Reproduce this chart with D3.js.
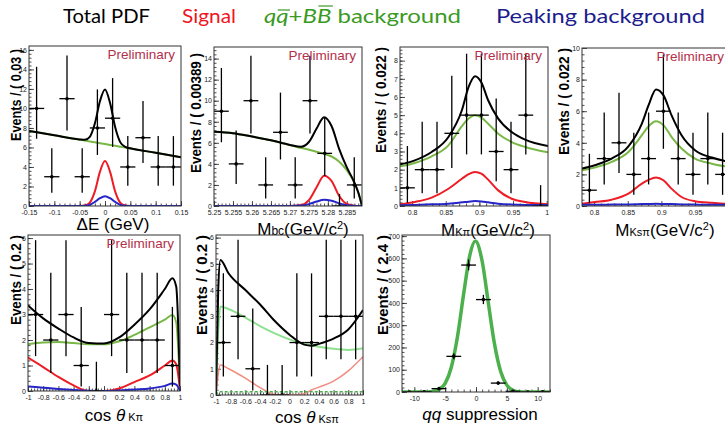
<!DOCTYPE html>
<html>
<head>
<meta charset="utf-8">
<script src="https://cdn.jsdelivr.net/npm/d3@7"></script>
<style>
  body { margin: 0; background: #fff; }
  svg { display: block; }
</style>
</head>
<body>
<svg width="725" height="427"></svg>
<script>
// ---------- data ----------

// Delta E
const dEBins   = [-0.135, -0.105, -0.075, -0.045, -0.015, 0.015, 0.045, 0.075, 0.105, 0.135];
const dECounts = [10, 3, 11, 3, 8, 9, 4, 7, 4, 4];
const dEx      = [-0.15, -0.1, -0.05, -0.04, -0.03, -0.02, -0.01, 0, 0.01, 0.02, 0.03, 0.04, 0.05, 0.1, 0.15];
const dEBkg    = [7.70, 7.25, 6.80, 6.71, 6.62, 6.53, 6.44, 6.35, 6.26, 6.17, 6.08, 5.99, 5.90, 5.45, 5.00];
const dESig    = [0, 0, 0, 0.05, 0.35, 1.5, 3.5, 4.6, 3.5, 1.5, 0.35, 0.05, 0, 0, 0];
const dEPeak   = [0, 0, 0, 0.02, 0.12, 0.42, 0.8, 1.0, 0.8, 0.42, 0.12, 0.02, 0, 0, 0];
const dETotal  = [7.70, 7.25, 6.82, 6.78, 7.09, 8.45, 10.74, 11.95, 10.56, 8.09, 6.55, 6.06, 5.92, 5.46, 5.00];

// Mbc
const mbcBins   = [5.25195, 5.25584, 5.25973, 5.26362, 5.26751, 5.2714, 5.27529, 5.27918, 5.28307, 5.28696];
const mbcCounts = [9, 4, 10, 2, 7, 2, 10, 5, 0, 2];
const mbcX      = [5.25, 5.255, 5.26, 5.265, 5.27, 5.273, 5.275, 5.277, 5.279, 5.281, 5.283, 5.285, 5.287, 5.288, 5.289];
const mbcBkg    = [7.05, 6.92, 6.6, 6.25, 5.8, 5.5, 5.35, 5.15, 4.95, 4.7, 4.2, 3.4, 2.2, 1.3, 0];
const mbcSig    = [0, 0, 0, 0, 0, 0.09, 0.55, 1.76, 2.88, 2.37, 0.95, 0.19, 0.02, 0, 0];
const mbcPeak   = [0, 0, 0, 0, 0, 0.04, 0.18, 0.42, 0.6, 0.5, 0.25, 0.07, 0.01, 0, 0];
const mbcTotal  = [7.05, 6.92, 6.6, 6.25, 5.8, 5.63, 6.08, 7.33, 8.43, 7.57, 5.4, 3.66, 2.23, 1.3, 0];

// M(K pi)
const kpiBins   = [0.793, 0.815, 0.837, 0.859, 0.881, 0.903, 0.925, 0.947, 0.969, 0.991];
const kpiCounts = [1, 2, 2, 4, 5, 5, 3, 2, 5, 0];
const kpiX      = [0.782, 0.804, 0.829, 0.854, 0.874, 0.884, 0.8935, 0.903, 0.913, 0.928, 0.948, 0.968, 1.002];
const kpiTotal  = [2.29, 2.51, 2.97, 3.8, 5.27, 6.55, 7.14, 6.8, 5.82, 4.81, 4.07, 3.65, 3.3];
const kpiBkg    = [2.18, 2.37, 2.73, 3.34, 4.39, 4.81, 4.99, 4.86, 4.53, 3.98, 3.52, 3.25, 2.95];
const kpiSig    = [0.09, 0.22, 0.46, 0.95, 1.5, 1.75, 1.87, 1.78, 1.45, 0.86, 0.4, 0.22, 0.09];
const kpiPeak   = [0.04, 0.06, 0.09, 0.13, 0.2, 0.24, 0.27, 0.25, 0.2, 0.13, 0.08, 0.06, 0.05];

// M(Ks pi)
const kspiCounts = [1, 3, 4, 2, 3, 6, 3, 2, 3, 2];
const kspiX      = [0.782, 0.801, 0.826, 0.851, 0.871, 0.881, 0.892, 0.903, 0.915, 0.930, 0.950, 0.975, 0.995, 1.002];
const kspiTotal  = [2.37, 2.58, 3.0, 3.78, 5.22, 6.38, 7.38, 7.02, 5.75, 4.48, 3.53, 3.07, 2.85, 2.8];
const kspiBkg    = [2.26, 2.43, 2.79, 3.42, 4.48, 5.05, 5.37, 5.12, 4.38, 3.64, 3.0, 2.68, 2.52, 2.5];
const kspiSig    = [0.15, 0.25, 0.4, 0.78, 1.42, 1.65, 1.8, 1.63, 1.1, 0.57, 0.3, 0.2, 0.15, 0.15];
const kspiPeak   = [0.08, 0.08, 0.09, 0.1, 0.12, 0.13, 0.14, 0.13, 0.12, 0.1, 0.09, 0.08, 0.08, 0.08];

// cos theta (K pi)
const cosBins      = [-0.9, -0.7, -0.5, -0.3, -0.1, 0.1, 0.3, 0.5, 0.7, 0.9];
const cosKpiCounts = [3, 2, 3, 1, 0, 3, 2, 2, 2, 1];
const cosKpiX      = [-1, -0.8, -0.6, -0.4, -0.2, 0, 0.2, 0.4, 0.6, 0.8, 0.9, 0.95, 1];
const cosKpiTotal  = [3.36, 2.85, 2.45, 2.1, 1.88, 1.86, 2.1, 2.6, 3.2, 4.0, 4.42, 4.1, 0.2];
const cosKpiBkg    = [1.83, 1.9, 1.92, 1.88, 1.83, 1.83, 1.95, 2.2, 2.5, 2.8, 2.98, 2.7, 0.15];
const cosKpiSig    = [1.31, 0.94, 0.55, 0.22, 0.0, 0, 0.1, 0.35, 0.61, 1.0, 1.2, 1.05, 0.05];
const cosKpiPeak   = [0.18, 0.13, 0.08, 0.04, 0.01, 0, 0.02, 0.06, 0.1, 0.2, 0.29, 0.25, 0];

// cos theta (Ks pi)
const cosKspiCounts = [2, 3, 1, 0, 0, 2, 2, 3, 3, 3];
const cosKspiX      = [-1, -0.97, -0.94, -0.83, -0.6, -0.4, -0.2, 0, 0.2, 0.3, 0.4, 0.6, 0.8, 1];
const cosKspiTotal  = [0, 4.0, 5.15, 4.64, 4.0, 3.45, 2.82, 2.3, 1.92, 1.88, 1.95, 2.15, 2.5, 3.24];
const cosKspiBkg    = [0, 2.4, 3.37, 3.28, 2.95, 2.63, 2.35, 2.12, 1.95, 1.9, 1.84, 1.76, 1.72, 1.78];
const cosKspiSig    = [0, 0.8, 1.14, 1.0, 0.64, 0.28, 0.02, 0, 0.05, 0.19, 0.3, 0.53, 0.92, 1.46];
const cosKspiPeak   = [0, 0.1, 0.12, 0.12, 0.12, 0.12, 0.12, 0.12, 0.12, 0.12, 0.12, 0.12, 0.12, 0.12];

// qq suppression
const qqBins   = [-10.8, -8.4, -6, -3.6, -1.2, 1.2, 3.6, 6, 8.4, 10.8];
const qqCounts = [0, 1, 15, 160, 570, 415, 40, 3, 0, 1];
const qqX      = [-12, -8, -7, -6, -5, -4, -3, -2, -1, -0.1, 1, 2, 3, 4, 5, 6, 7, 8, 12];
const qqTotal  = [0, 0, 2, 11, 39, 111, 249, 441, 615, 678, 587, 400, 216, 92, 31, 8, 1, 0, 0];

// legend
const legendLabels = ["Total PDF", "Signal", "qq+BB background", "Peaking background"];

// 68% Poisson intervals used by the error bars
const poissonLo = [0, 0.173, 0.708, 1.367, 2.086, 2.840, 3.620, 4.419, 5.232, 6.057, 6.891, 7.734];
const poissonHi = [1.148, 3.300, 4.638, 5.918, 7.163, 8.382, 9.584, 10.77, 11.95, 13.11, 14.27, 15.42];

// ---------- drawing ----------
const svg = d3.select("svg");
const BLACK = "#000", GREEN = "#79b846", RED = "#ee1c24", BLUE = "#2626c8";
const PRELIM = "#b3304a";

function errRange(n) {
  if (n < poissonLo.length) return [poissonLo[n], poissonHi[n]];
  return [n - Math.sqrt(n), n + Math.sqrt(n) + 1];
}
const str = d => String(d);

function drawPanel(p) {
  const x = d3.scaleLinear().domain(p.xDomain).range([p.left, p.right]);
  const y = d3.scaleLinear().domain([0, p.yMax]).range([p.bottom, p.top]);
  const g = svg.append("g");

  const clipId = "clip-" + p.id;
  g.append("clipPath").attr("id", clipId).append("rect")
    .attr("x", p.left).attr("y", p.top)
    .attr("width", p.right - p.left).attr("height", p.bottom - p.top);

  // axes: major and minor ticks pointing inside
  const axes = [
    [d3.axisBottom(x).tickValues(p.xTicks).tickFormat(str).tickSize(-5).tickPadding(4), "b"],
    [d3.axisBottom(x).tickValues(p.xMinor).tickFormat("").tickSize(-2.5), "b"],
    [d3.axisLeft(y).tickValues(p.yTicks).tickFormat(str).tickSize(-5).tickPadding(2), "l"],
    [d3.axisLeft(y).tickValues(p.yMinor).tickFormat("").tickSize(-2.5), "l"]
  ];
  axes.forEach(([ax, side]) => {
    const a = g.append("g")
      .attr("transform", side === "b" ? `translate(0,${p.bottom})` : `translate(${p.left},0)`)
      .call(ax);
    a.select(".domain").remove();
    a.selectAll("line").attr("stroke", "#222").attr("stroke-width", 0.8);
    a.selectAll("text").attr("font-family", "Liberation Sans, Arial, sans-serif")
      .attr("font-size", 7).attr("fill", "#222");
  });

  const plot = g.append("g").attr("clip-path", `url(#${clipId})`);
  const line = d3.line().curve(d3.curveMonotoneX);
  p.curves.forEach(c => {
    plot.append("path")
      .attr("d", line(c.x.map((v, i) => [x(v), y(c.y[i])])))
      .attr("fill", "none")
      .attr("stroke", c.color)
      .attr("stroke-width", c.width || 2)
      .attr("stroke-dasharray", c.dash || null);
  });

  const pts = plot.selectAll(".pt")
    .data(p.bins.map((b, i) => ({ c: b, n: p.counts[i] })))
    .enter().append("g").attr("class", "pt");
  pts.append("line")
    .attr("x1", d => x(d.c)).attr("x2", d => x(d.c))
    .attr("y1", d => y(errRange(d.n)[0])).attr("y2", d => y(errRange(d.n)[1]))
    .attr("stroke", "#000").attr("stroke-width", 1.3);
  pts.append("line")
    .attr("x1", d => x(d.c - p.binWidth / 2)).attr("x2", d => x(d.c + p.binWidth / 2))
    .attr("y1", d => y(d.n)).attr("y2", d => y(d.n))
    .attr("stroke", "#000").attr("stroke-width", 1.3);
  pts.append("circle")
    .attr("cx", d => x(d.c)).attr("cy", d => y(d.n)).attr("r", 1.8).attr("fill", "#000");

  // frame
  g.append("rect")
    .attr("x", p.left).attr("y", p.top)
    .attr("width", p.right - p.left).attr("height", p.bottom - p.top)
    .attr("fill", "none").attr("stroke", "#333").attr("stroke-width", 1);

  // y title
  g.append("text")
    .attr("transform", `translate(${p.yTitleX},${p.top + p.yTitleDy}) rotate(-90)`)
    .attr("text-anchor", "end")
    .attr("font-family", "Liberation Sans, Arial, sans-serif")
    .attr("font-weight", "bold").attr("font-size", 14)
    .attr("textLength", p.yTitleLen).attr("lengthAdjust", "spacingAndGlyphs")
    .text(p.yTitle);

  // x title
  const xt = g.append("text")
    .attr("x", p.xTitleX).attr("y", p.xTitleY)
    .attr("text-anchor", "middle")
    .attr("font-family", "Liberation Sans, Arial, sans-serif")
    .attr("font-size", 17);
  p.xTitle.forEach(s => {
    xt.append("tspan")
      .attr("font-size", s.size || null)
      .attr("font-style", s.italic ? "italic" : null)
      .attr("dy", s.dy || null)
      .text(s.t);
  });

  if (p.prelim) {
    g.append("text")
      .attr("x", p.right - 6).attr("y", p.top + 13)
      .attr("text-anchor", "end")
      .attr("font-family", "Liberation Sans, Arial, sans-serif")
      .attr("font-size", 13.5).attr("fill", PRELIM)
      .text("Preliminary");
  }
}

const sup2 = [{ t: "2", size: 11, dy: -6 }, { t: ")", dy: 6 }];

const panels = [
  {
    id: "de", left: 29, right: 181, top: 46, bottom: 206,
    xDomain: [-0.15, 0.15], yMax: 16.4, binWidth: 0.03,
    xTicks: [-0.15, -0.1, -0.05, 0, 0.05, 0.1, 0.15], xMinor: d3.range(-0.15, 0.151, 0.01),
    yTicks: d3.range(0, 17, 2), yMinor: d3.range(0, 16.4, 0.4),
    bins: dEBins, counts: dECounts,
    curves: [
      { x: dEx, y: dEBkg, color: GREEN }, { x: dEx, y: dESig, color: RED },
      { x: dEx, y: dEPeak, color: BLUE }, { x: dEx, y: dETotal, color: BLACK }
    ],
    yTitle: "Events / ( 0.03 )", yTitleX: 21, yTitleDy: 3, yTitleLen: 92,
    xTitle: [{ t: "ΔE (GeV)" }], xTitleX: 113, xTitleY: 230, prelim: true
  },
  {
    id: "mbc", left: 214, right: 362, top: 47, bottom: 206,
    xDomain: [5.25, 5.289], yMax: 15.1, binWidth: 0.00389,
    xTicks: [5.25, 5.255, 5.26, 5.265, 5.27, 5.275, 5.28, 5.285], xMinor: d3.range(5.25, 5.289, 0.001),
    yTicks: d3.range(0, 15, 2), yMinor: d3.range(0, 15.1, 0.4),
    bins: mbcBins, counts: mbcCounts,
    curves: [
      { x: mbcX, y: mbcBkg, color: GREEN }, { x: mbcX, y: mbcSig, color: RED },
      { x: mbcX, y: mbcPeak, color: BLUE }, { x: mbcX, y: mbcTotal, color: BLACK }
    ],
    yTitle: "Events / ( 0.00389 )", yTitleX: 201, yTitleDy: 6, yTitleLen: 120,
    xTitle: [{ t: "M" }, { t: "bc", size: 12 }, { t: "(GeV/c" }].concat(sup2),
    xTitleX: 303, xTitleY: 235, prelim: true
  },
  {
    id: "kpi", left: 400, right: 548, top: 47, bottom: 206,
    xDomain: [0.782, 1.002], yMax: 8.75, binWidth: 0.022,
    xTicks: [0.8, 0.85, 0.9, 0.95, 1], xMinor: d3.range(0.79, 1.0, 0.01),
    yTicks: d3.range(0, 9, 1), yMinor: d3.range(0, 8.75, 0.2),
    bins: kpiBins, counts: kpiCounts,
    curves: [
      { x: kpiX, y: kpiBkg, color: GREEN }, { x: kpiX, y: kpiSig, color: RED },
      { x: kpiX, y: kpiPeak, color: BLUE }, { x: kpiX, y: kpiTotal, color: BLACK }
    ],
    yTitle: "Events / ( 0.022 )", yTitleX: 386, yTitleDy: 0, yTitleLen: 106,
    xTitle: [{ t: "M" }, { t: "Kπ", size: 11 }, { t: "(GeV/c" }].concat(sup2),
    xTitleX: 488, xTitleY: 236, prelim: true
  },
  {
    id: "kspi", left: 582, right: 730, top: 48, bottom: 206,
    xDomain: [0.782, 1.002], yMax: 10, binWidth: 0.022,
    xTicks: [0.8, 0.85, 0.9, 0.95], xMinor: d3.range(0.79, 1.0, 0.01),
    yTicks: d3.range(0, 11, 2), yMinor: d3.range(0, 10, 0.4),
    bins: kpiBins, counts: kspiCounts,
    curves: [
      { x: kspiX, y: kspiBkg, color: GREEN }, { x: kspiX, y: kspiSig, color: RED },
      { x: kspiX, y: kspiPeak, color: BLUE }, { x: kspiX, y: kspiTotal, color: BLACK }
    ],
    yTitle: "Events / ( 0.022 )", yTitleX: 569, yTitleDy: 0, yTitleLen: 107,
    xTitle: [{ t: "M" }, { t: "Ksπ", size: 11 }, { t: "(GeV/c" }].concat(sup2),
    xTitleX: 665, xTitleY: 236, prelim: true
  },
  {
    id: "coskpi", left: 28, right: 180, top: 235, bottom: 391,
    xDomain: [-1, 1], yMax: 6.12, binWidth: 0.2,
    xTicks: [-1, -0.8, -0.6, -0.4, -0.2, 0, 0.2, 0.4, 0.6, 0.8, 1], xMinor: d3.range(-1, 1.001, 0.04),
    yTicks: d3.range(0, 7, 1), yMinor: d3.range(0, 6.1, 0.2),
    bins: cosBins, counts: cosKpiCounts,
    curves: [
      { x: cosKpiX, y: cosKpiBkg, color: GREEN }, { x: cosKpiX, y: cosKpiSig, color: RED },
      { x: cosKpiX, y: cosKpiPeak, color: BLUE }, { x: cosKpiX, y: cosKpiTotal, color: BLACK }
    ],
    yTitle: "Events / ( 0.2 )", yTitleX: 21, yTitleDy: 0, yTitleLen: 90,
    xTitle: [{ t: "cos " }, { t: "θ", italic: true }, { t: " Kπ", size: 11 }],
    xTitleX: 114, xTitleY: 421, prelim: true
  },
  {
    id: "coskspi", left: 216, right: 363, top: 235, bottom: 395,
    xDomain: [-1, 1], yMax: 6.1, binWidth: 0.2,
    xTicks: [-1, -0.8, -0.6, -0.4, -0.2, 0, 0.2, 0.4, 0.6, 0.8, 1], xMinor: d3.range(-1, 1.001, 0.04),
    yTicks: d3.range(0, 7, 1), yMinor: d3.range(0, 6.1, 0.2),
    bins: cosBins, counts: cosKspiCounts,
    curves: [
      { x: cosKspiX, y: cosKspiBkg, color: "#8fe08f" }, { x: cosKspiX, y: cosKspiSig, color: "#f08c80", width: 1.5 },
      { x: cosKspiX, y: cosKspiPeak, color: "#4cae4c", width: 1.5, dash: "3,2" },
      { x: cosKspiX, y: cosKspiTotal, color: BLACK }
    ],
    yTitle: "Events / ( 0.2 )", yTitleX: 207, yTitleDy: 0, yTitleLen: 100,
    xTitle: [{ t: "cos " }, { t: "θ", italic: true }, { t: " Ksπ", size: 11 }],
    xTitleX: 307, xTitleY: 423, prelim: false
  },
  {
    id: "qq", left: 402, right: 550, top: 235, bottom: 392,
    xDomain: [-12, 12], yMax: 705, binWidth: 2.4,
    xTicks: [-10, -5, 0, 5, 10], xMinor: d3.range(-12, 12.01, 1),
    yTicks: d3.range(0, 701, 100), yMinor: d3.range(0, 705, 20),
    bins: qqBins, counts: qqCounts,
    curves: [{ x: qqX, y: qqTotal, color: "#4cb04c", width: 3.5 }],
    yTitle: "Events / ( 2.4 )", yTitleX: 388, yTitleDy: 0, yTitleLen: 100,
    xTitle: [{ t: "qq", italic: true }, { t: " suppression" }],
    xTitleX: 480, xTitleY: 420, prelim: false
  }
];

panels.forEach(drawPanel);

// ---------- legend ----------
const legendX = [63, 182, 264, 496];
const legendW = [87, 54, 197, 209];
const legendC = [BLACK, "#f0141e", "#3a9a24", "#1c1c8c"];
legendLabels.forEach((lab, i) => {
  const t = svg.append("text")
    .attr("x", legendX[i]).attr("y", 23)
    .attr("font-family", "Lato, Noto Sans, sans-serif")
    .attr("font-size", 19).attr("fill", legendC[i])
    .attr("textLength", legendW[i]).attr("lengthAdjust", "spacingAndGlyphs");
  if (i === 2) {
    t.append("tspan").attr("font-style", "italic").text("qq");
    t.append("tspan").text("+");
    t.append("tspan").attr("font-style", "italic").text("BB");
    t.append("tspan").text(" background");
    // bars over the second q and second B
    const node = t.node();
    [1, 4].forEach(ci => {
      const a = node.getStartPositionOfChar(ci), b = node.getEndPositionOfChar(ci);
      svg.append("line")
        .attr("x1", a.x + 1.5).attr("x2", b.x + 1.5)
        .attr("y1", ci === 1 ? 10 : 6).attr("y2", ci === 1 ? 10 : 6)
        .attr("stroke", legendC[i]).attr("stroke-width", 1.2);
    });
  } else {
    t.text(lab);
  }
});
</script>
</body>
</html>
